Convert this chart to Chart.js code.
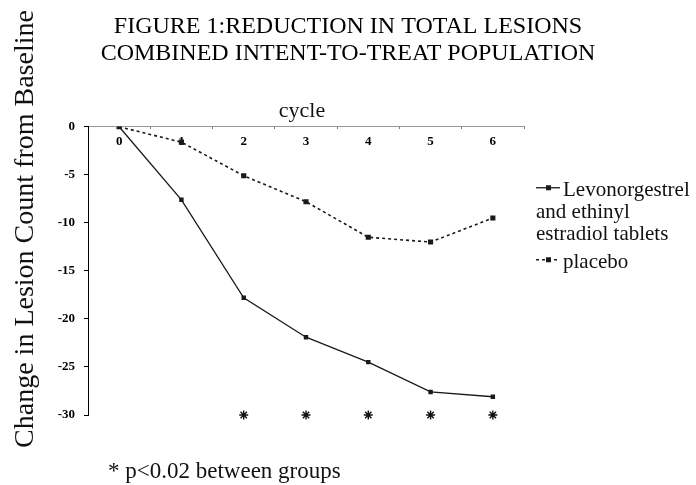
<!DOCTYPE html>
<html>
<head>
<meta charset="utf-8">
<title>Reduction in total lesions</title>
<script src="https://cdn.jsdelivr.net/npm/chart.js@4.4.0/dist/chart.umd.min.js"></script>
<style>
    html, body { margin: 0; padding: 0; background: #fff; }
    #lesionChart { display: block; }
</style>
</head>
<body>
<canvas id="lesionChart" width="696" height="485"></canvas>
<script>
// Chart data
const cycles = ['0', '1', '2', '3', '4', '5', '6'];
const levonorgestrel = [0, -7.6, -17.8, -21.9, -24.5, -27.6, -28.1];
const placebo = [0, -1.6, -5.1, -7.8, -11.5, -12.0, -9.5];
const significant = [null, null, -30, -30, -30, -30, -30];
const yTicks = [0, -5, -10, -15, -20, -25, -30];

const titleLines = ['FIGURE 1:REDUCTION IN TOTAL LESIONS', 'COMBINED INTENT-TO-TREAT POPULATION'];
const yTitle = 'Change in Lesion Count from Baseline';
const xTitle = 'cycle';
const footnote = '* p<0.02 between groups';
const legendLabels = [['Levonorgestrel', 'and ethinyl', 'estradiol tablets'], ['placebo']];

const serif = '"Liberation Serif", "Times New Roman", serif';

// Draws the axis titles, the side legend and the footnote
const extraText = {
    id: 'extraText',
    afterDraw(chart) {
        const { ctx, chartArea } = chart;
        ctx.save();
        ctx.fillStyle = '#111';

        // y axis title, rotated
        ctx.save();
        ctx.font = '28px ' + serif;
        ctx.textAlign = 'center';
        ctx.textBaseline = 'alphabetic';
        ctx.translate(33, 229);
        ctx.rotate(-Math.PI / 2);
        ctx.fillText(yTitle, 0, 0);
        ctx.restore();

        // x axis title above the axis line
        ctx.font = '22px ' + serif;
        ctx.textAlign = 'center';
        ctx.textBaseline = 'alphabetic';
        ctx.fillText(xTitle, chartArea.left + 214, chartArea.top - 10);

        // footnote
        ctx.font = '23px ' + serif;
        ctx.textAlign = 'left';
        ctx.fillText(footnote, 108, chartArea.bottom + 63);

        // legend
        const x0 = chartArea.right + 12;
        const rows = [chartArea.top + 69, chartArea.top + 141];
        ctx.font = '21px ' + serif;
        legendLabels.forEach((lines, i) => {
            const ds = chart.data.datasets[i];
            const base = rows[i];
            const ly = base - 8;
            ctx.save();
            ctx.strokeStyle = ds.borderColor;
            ctx.lineWidth = ds.borderWidth;
            ctx.setLineDash(ds.borderDash || []);
            ctx.beginPath();
            ctx.moveTo(x0, ly);
            ctx.lineTo(x0 + 24, ly);
            ctx.stroke();
            ctx.setLineDash([]);
            ctx.fillStyle = ds.backgroundColor;
            ctx.fillRect(x0 + 10, ly - 2.5, 5, 5);
            ctx.restore();
            lines.forEach((t, j) => {
                ctx.fillText(t, j === 0 ? x0 + 27 : x0, base + j * 22);
            });
        });
        ctx.restore();
    }
};

new Chart(document.getElementById('lesionChart'), {
    type: 'line',
    data: {
        labels: cycles,
        datasets: [
            {
                label: 'Levonorgestrel and ethinyl estradiol tablets',
                data: levonorgestrel,
                borderColor: '#1a1a1a',
                backgroundColor: '#1a1a1a',
                borderWidth: 1.3,
                pointStyle: 'rect',
                pointRadius: 2.2,
                tension: 0
            },
            {
                label: 'placebo',
                data: placebo,
                borderColor: '#1a1a1a',
                backgroundColor: '#1a1a1a',
                borderWidth: 1.6,
                borderDash: [3, 3],
                pointStyle: 'rect',
                pointRadius: 2.5,
                tension: 0
            },
            {
                label: 'p<0.02 between groups',
                data: significant,
                showLine: false,
                pointStyle: 'star',
                pointRadius: 4.5,
                borderColor: '#111',
                backgroundColor: '#111',
                borderWidth: 1.4,
                clip: false
            }
        ]
    },
    options: {
        responsive: false,
        animation: false,
        layout: {
            padding: { left: 0, right: 0, top: 0, bottom: 70 }
        },
        plugins: {
            legend: { display: false },
            tooltip: { enabled: false },
            title: {
                display: true,
                text: titleLines,
                color: '#000',
                font: { family: serif, size: 24, weight: 'normal', lineHeight: 1.12 },
                padding: { top: 13, bottom: 60 }
            }
        },
        scales: {
            x: {
                position: { y: 0 },
                offset: true,
                grid: { offset: true, drawOnChartArea: false, tickLength: 2, color: '#777' },
                border: { color: '#999', width: 1 },
                ticks: { color: '#000', padding: 5, font: { family: serif, size: 13, weight: 'bold' } }
            },
            y: {
                min: -30,
                max: 0,
                afterBuildTicks: (scale) => {
                    scale.ticks = yTicks.map(v => ({ value: v }));
                },
                afterFit: (scale) => {
                    scale.width = 88;
                },
                grid: { drawOnChartArea: false, tickLength: 4, color: '#000' },
                border: { color: '#000', width: 1 },
                ticks: { color: '#000', padding: 9, font: { family: serif, size: 13, weight: 'bold' } }
            },
            // empty right-hand axis that reserves room for the legend
            legendSpace: {
                type: 'linear',
                position: 'right',
                min: -30,
                max: 0,
                grid: { display: false },
                border: { display: false },
                ticks: { display: false },
                afterFit: (scale) => {
                    scale.width = 172;
                }
            }
        }
    },
    plugins: [extraText]
});
</script>
</body>
</html>
